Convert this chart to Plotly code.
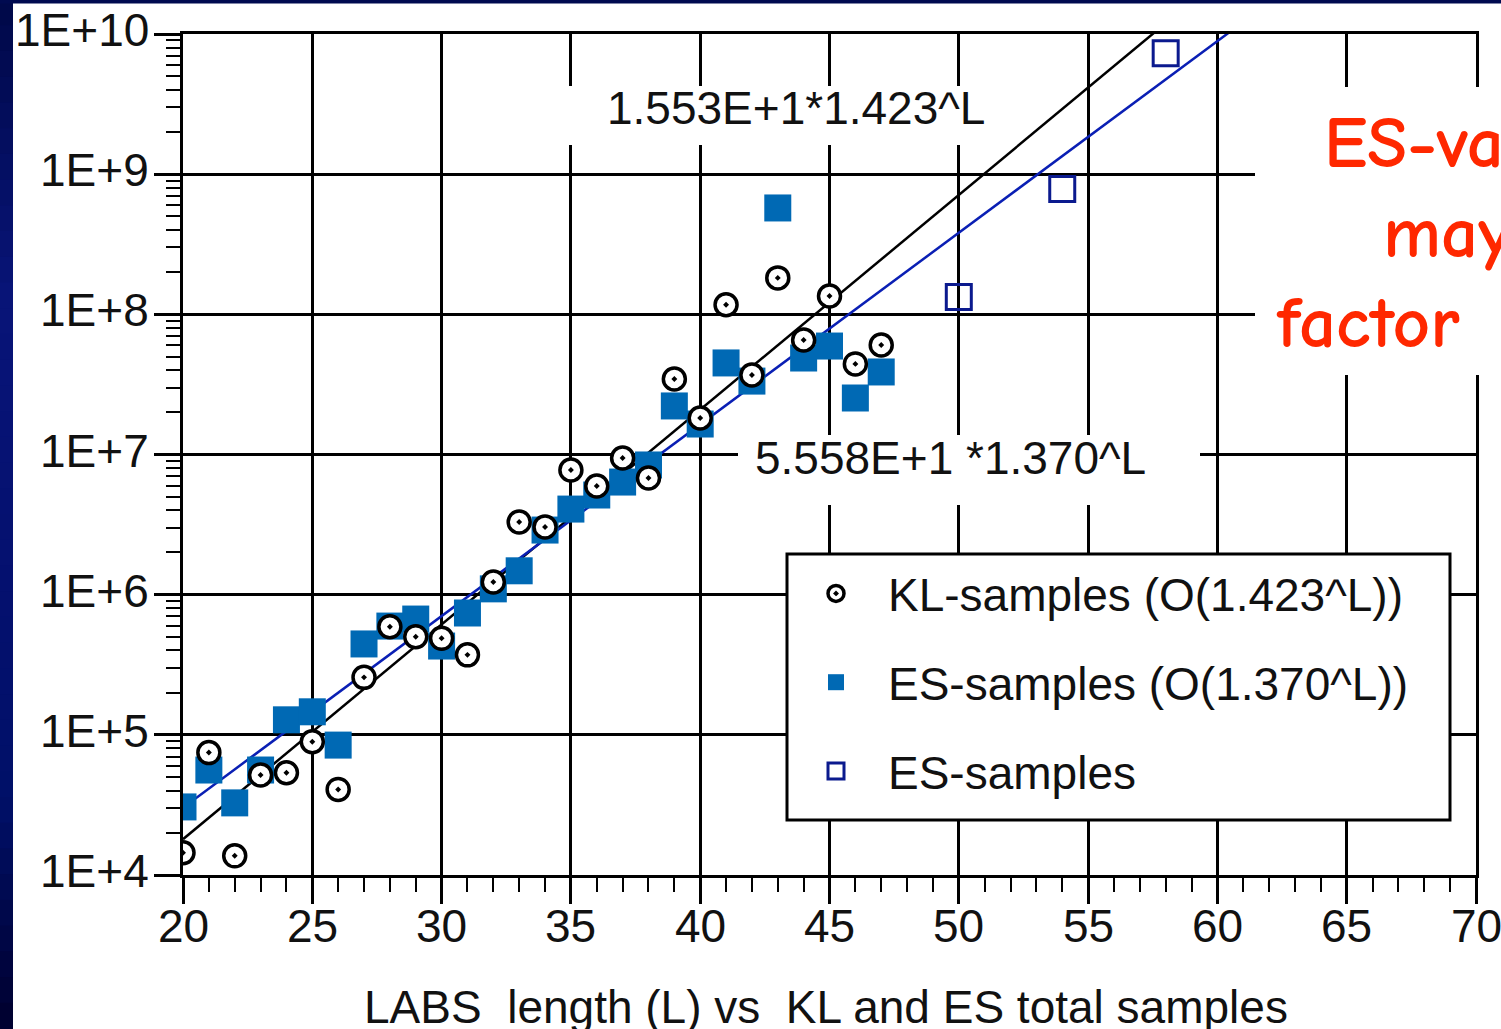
import math
import plotly.graph_objects as go

# ---------------- data ----------------
L_kl = list(range(20, 48))
kl_samples = [1.44e4, 7.47e4, 1.37e4, 5.17e4, 5.37e4, 8.93e4, 4.08e4, 2.57e5, 5.90e5, 5.01e5,
              4.88e5, 3.72e5, 1.23e6, 3.30e6, 3.04e6, 7.75e6, 5.96e6, 9.44e6, 6.79e6, 3.46e7,
              1.82e7, 1.17e8, 3.69e7, 1.82e8, 6.56e7, 1.35e8, 4.43e7, 6.04e7]

L_es = list(range(20, 48))
es_samples = [3.06e4, 5.61e4, 3.27e4, 5.61e4, 1.28e5, 1.46e5, 8.45e4, 4.45e5, 5.97e5, 6.70e5,
              4.30e5, 7.40e5, 1.10e6, 1.48e6, 2.89e6, 4.08e6, 5.14e6, 6.36e6, 8.42e6, 2.22e7,
              1.65e7, 4.50e7, 3.34e7, 5.74e8, 4.88e7, 5.94e7, 2.53e7, 3.88e7]

L_es_open = [50, 54, 58]
es_open_samples = [1.33e8, 7.83e8, 7.3e9]

# fitted lines (end points)
fit_L = [20, 62]
kl_fit = [1.80e4, 4.90e10]
es_fit = [3.02e4, 1.67e10]

y_tickvals = [1e4, 1e5, 1e6, 1e7, 1e8, 1e9, 1e10]
y_ticktext = ["1E+4", "1E+5", "1E+6", "1E+7", "1E+8", "1E+9", "1E+10"]
x_tickvals = [20, 25, 30, 35, 40, 45, 50, 55, 60, 65, 70]
x_ticktext = ["20", "25", "30", "35", "40", "45", "50", "55", "60", "65", "70"]

# ---------------- layout helpers ----------------
W, H = 1501, 1029
ML, MR, MT, MB = 183, 25, 34, 154
PW, PH = W - ML - MR, H - MT - MB


def px(x):
    return (x - ML) / PW


def py(y):
    return (H - MB - y) / PH


FONT = "Liberation Sans, Arial, Helvetica, sans-serif"
TXT = "#111111"

fig = go.Figure()

fig.add_trace(go.Scatter(x=fit_L, y=kl_fit, mode="lines", showlegend=False,
                         line=dict(color="black", width=2.5), hoverinfo="skip"))
fig.add_trace(go.Scatter(x=fit_L, y=es_fit, mode="lines", showlegend=False,
                         line=dict(color="#0A1FB4", width=2.5), hoverinfo="skip"))

fig.add_trace(go.Scatter(x=L_es, y=es_samples, mode="markers",
                         name="ES-samples (O(1.370^L))", legendgroup="b", legendrank=2,
                         marker=dict(symbol="square", size=27, color="#0069B4",
                                     line=dict(width=0))))
fig.add_trace(go.Scatter(x=L_kl, y=kl_samples, mode="markers",
                         name="KL-samples (O(1.423^L))", legendgroup="a", legendrank=1,
                         marker=dict(symbol="circle-dot", size=22, color="white",
                                     line=dict(color="black", width=3.5))))
fig.add_trace(go.Scatter(x=L_es_open, y=es_open_samples, mode="markers",
                         name="ES-samples", legendgroup="c", legendrank=3,
                         marker=dict(symbol="square-open", size=25, color="#0B1A8E",
                                     line=dict(width=3, color="#0B1A8E"))))

minor_y = [k * 10 ** e for e in range(4, 10) for k in range(2, 10)]

fig.update_xaxes(range=[20, 70], tickvals=x_tickvals, ticks="outside", ticklen=26,
                 tickwidth=3, tickcolor="black", showline=True, linecolor="black",
                 linewidth=3, mirror=True, showgrid=True, gridcolor="black", gridwidth=3,
                 zeroline=False, showticklabels=False,
                 minor=dict(dtick=1, ticks="outside", ticklen=14, tickwidth=2,
                            tickcolor="black", showgrid=False))
fig.update_yaxes(type="log", range=[4, 10], tickvals=y_tickvals,
                 ticks="outside", ticklen=26, tickwidth=3, tickcolor="black",
                 showline=True, linecolor="black", linewidth=3, mirror=True,
                 showgrid=True, gridcolor="black", gridwidth=3, zeroline=False,
                 showticklabels=False,
                 minor=dict(tickvals=minor_y, ticks="outside", ticklen=14, tickwidth=2,
                            tickcolor="black", showgrid=False))

shapes = []
# dark navy frame (left strip with vertical gradient + thin top strip)
stops = [(0, (0, 8, 72)), (300, (8, 20, 120)), (600, (4, 16, 110)),
         (800, (0, 16, 104)), (1029, (0, 0, 46))]
nseg = 40
for i in range(nseg):
    y0 = H * i / nseg
    y1 = H * (i + 1) / nseg
    ym = (y0 + y1) / 2
    for j in range(len(stops) - 1):
        if stops[j][0] <= ym <= stops[j + 1][0]:
            t = (ym - stops[j][0]) / (stops[j + 1][0] - stops[j][0])
            c = [round(stops[j][1][k] + t * (stops[j + 1][1][k] - stops[j][1][k])) for k in range(3)]
            break
    shapes.append(dict(type="rect", xref="paper", yref="paper", layer="above",
                       x0=px(-2), x1=px(13), y0=py(y1 + 0.5), y1=py(y0 - 0.5),
                       fillcolor=f"rgb({c[0]},{c[1]},{c[2]})", line=dict(width=0)))
shapes.append(dict(type="rect", xref="paper", yref="paper", layer="above",
                   x0=px(0), x1=px(W + 5), y0=py(3.5), y1=py(-3),
                   fillcolor="rgb(0,10,80)", line=dict(width=0)))
# white boxes behind the formula labels and the red commentary text
for (a, b, c_, d) in [(560, 1012, 86, 145), (738, 1200, 435, 505), (1255, W + 10, 87, 375)]:
    shapes.append(dict(type="rect", xref="paper", yref="paper", layer="above",
                       x0=px(a), x1=px(b), y0=py(d), y1=py(c_),
                       fillcolor="white", line=dict(width=0)))
# legend frame
shapes.append(dict(type="rect", xref="paper", yref="paper", layer="above",
                   x0=px(787), x1=px(1450), y0=py(820), y1=py(554),
                   fillcolor="white", line=dict(color="black", width=3)))

annotations = [
    dict(text="1.553E+1*1.423^L", xref="paper", yref="paper", x=px(605), y=py(108),
         xanchor="left", yanchor="middle", showarrow=False,
         font=dict(family=FONT, size=46, color=TXT)),
    dict(text="5.558E+1 *1.370^L", xref="paper", yref="paper", x=px(753), y=py(458),
         xanchor="left", yanchor="middle", showarrow=False,
         font=dict(family=FONT, size=46, color=TXT)),
    dict(text="LABS\u00a0\u00a0length (L) vs\u00a0\u00a0KL and ES total samples",
         xref="paper", yref="paper", x=px(826), y=py(1007), xanchor="center",
         yanchor="middle", showarrow=False, font=dict(family=FONT, size=46, color=TXT)),
]
# axis tick labels, placed through the axes' own scales
for v, t in zip(x_tickvals, x_ticktext):
    annotations.append(dict(text=t, xref="x", yref="paper", x=v, y=py(926),
                            xanchor="center", yanchor="middle", showarrow=False,
                            font=dict(family=FONT, size=46, color=TXT)))
for v, t in zip(y_tickvals, y_ticktext):
    annotations.append(dict(text=t, xref="paper", yref="y", x=px(151), y=math.log10(v),
                            xanchor="right", yanchor="middle", yshift=4, showarrow=False,
                            font=dict(family=FONT, size=46, color=TXT)))

RED = "#FF2800"
RFONT = "Comic Sans MS, Comic Neue, Lato, sans-serif"
for txt, x0, yc in [("ES-va", 1322, 143), ("may", 1381, 233), ("factor", 1274, 323)]:
    annotations.append(dict(text=f"<b>{txt}</b>", xref="paper", yref="paper", x=px(x0),
                            y=py(yc), xanchor="left", yanchor="middle", showarrow=False,
                            font=dict(family=RFONT, size=73, color=RED)))

fig.update_layout(
    width=W, height=H, margin=dict(l=ML, r=MR, t=MT, b=MB, autoexpand=False),
    paper_bgcolor="white", plot_bgcolor="white",
    shapes=shapes, annotations=annotations,
    showlegend=True,
    legend=dict(x=px(784), y=py(557), xanchor="left", yanchor="top",
                bgcolor="rgba(0,0,0,0)", borderwidth=0, tracegroupgap=26, itemwidth=94,
                font=dict(family=FONT, size=46, color=TXT), itemsizing="trace"),
    font=dict(family=FONT, color=TXT),
)

fig.write_html("out.html", config={"displayModeBar": False},
               post_script="document.body.style.margin='0';document.body.style.overflow='hidden';")
